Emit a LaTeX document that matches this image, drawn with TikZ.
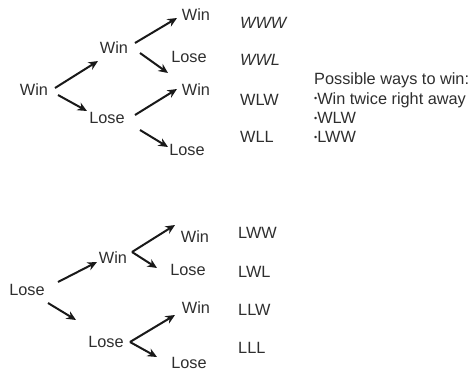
\documentclass[tikz,border=0pt]{standalone}
\usepackage{fontspec}
\setmainfont{Liberation Sans}
\usetikzlibrary{arrows.meta}
\newcommand{\mybul}{\raisebox{2.6pt}{\fontsize{9}{9}\selectfont •}}
\begin{document}
\begin{tikzpicture}[x=1pt,y=-1pt,
  lbl/.style={inner sep=0pt,font=\fontsize{16.3}{18}\selectfont,text=black!82},
  seq/.style={lbl,anchor=west},
  arr/.style={line width=2pt,black!90,-{Stealth[length=9.5pt,width=8.5pt]}}]
\useasboundingbox (0,0) rectangle (471,373);
% top tree
\node[lbl] (r1) at (34,90) {Win};
\node[lbl] (a) at (114,48) {Win};
\node[lbl] (b) at (107,118) {Lose};
\node[lbl] (a1) at (196,15) {Win};
\node[lbl] (a2) at (189,57) {Lose};
\node[lbl] (b1) at (196,90) {Win};
\node[lbl] (b2) at (187,150) {Lose};
\node[seq] (s1) at (240,23) {\itshape WWW};
\node[seq] (s2) at (240,60) {\itshape WWL};
\node[seq] (s3) at (240,100) {WLW};
\node[seq] (s4) at (240,137) {WLL};
\node[seq] (p0) at (314,80) {Possible ways to win:};
\node[seq] (p1) at (314,100) {\mybul Win twice right away};
\node[seq] (p2) at (314,118) {\mybul WLW};
\node[seq] (p3) at (314,137) {\mybul LWW};
\draw[arr] ([shift={(21,-2)}]r1.center) -- ([shift={(-16,13)}]a.center);
\draw[arr] ([shift={(24,5)}]r1.center) -- ([shift={(-20,-7)}]b.center);
\draw[arr] ([shift={(21,-5)}]a.center) -- ([shift={(-19,3)}]a1.center);
\draw[arr] ([shift={(26,5)}]a.center) -- ([shift={(-21,16)}]a2.center);
\draw[arr] ([shift={(28,-3)}]b.center) -- ([shift={(-19,-1)}]b1.center);
\draw[arr] ([shift={(33,12)}]b.center) -- ([shift={(-19,-3)}]b2.center);
% bottom tree
\node[lbl] (r2) at (27,290) {Lose};
\node[lbl] (c) at (113,258) {Win};
\node[lbl] (d) at (106,342) {Lose};
\node[lbl] (c1) at (195,237) {Win};
\node[lbl] (c2) at (188,270) {Lose};
\node[lbl] (d1) at (196,308) {Win};
\node[lbl] (d2) at (189,363) {Lose};
\node[seq] (t1) at (238,233) {LWW};
\node[seq] (t2) at (238,272) {LWL};
\node[seq] (t3) at (238,310) {LLW};
\node[seq] (t4) at (238,348) {LLL};
\draw[arr] ([shift={(31,-8)}]r2.center) -- ([shift={(-16,4)}]c.center);
\draw[arr] ([shift={(21,13)}]r2.center) -- ([shift={(-30,-22)}]d.center);
\draw[arr] ([shift={(19,-6)}]c.center) -- ([shift={(-20,-12)}]c1.center);
\draw[arr] ([shift={(19,-6)}]c.center) -- ([shift={(-31,-2)}]c2.center);
\draw[arr] ([shift={(24,0)}]d.center) -- ([shift={(-21,7)}]d1.center);
\draw[arr] ([shift={(24,0)}]d.center) -- ([shift={(-32,-6)}]d2.center);
\end{tikzpicture}
\end{document}
